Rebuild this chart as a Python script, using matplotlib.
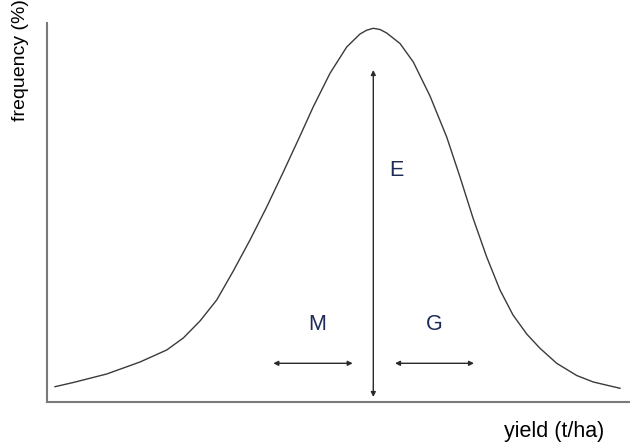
import matplotlib
matplotlib.use("Agg")
import matplotlib.pyplot as plt

plt.rcParams['font.family'] = ['Liberation Sans', 'DejaVu Sans']

# Curve (x: yield, y: frequency; arbitrary units)
curve_x = [8, 26.3, 59.7, 93, 119.7, 136.3, 153, 169.7, 186.3, 203, 219.7, 236.3,
           253, 266.3, 283, 299.7, 313, 319.7, 326.3, 333, 339.7, 353, 366.3, 383,
           399.7, 413, 426, 439.7, 453, 466, 479.7, 493, 509.7, 529.7, 546.3, 573]
curve_y = [15.3, 19.5, 28, 40, 52, 64, 81, 102, 131, 162, 195, 230,
           266, 295.3, 328.7, 355, 368, 371.8, 373.7, 372.5, 369, 358.5, 340, 306,
           265, 225, 184, 145, 112, 87, 68, 53.7, 38.7, 26.5, 20, 13.7]

# Arrows and labels
e_x = 326.3
e_y = (5, 332)
m_x = (226.3, 305.7)
g_x = (348, 427)
arrow_y = 38.7
labels = ["M", "G", "E"]
label_x = [269.7, 387.3, 349]
label_y = [77, 77, 232]

fig = plt.figure(figsize=(6.3, 4.42), dpi=100)
ax = fig.add_axes([47/630, 40/442, 583/630, 379/442])
ax.set_xlim(0, 583)
ax.set_ylim(0, 379)

ax.plot(curve_x, curve_y, color='#3a3a3a', lw=1.0, solid_joinstyle='round',
        antialiased=True)

akw = dict(arrowstyle='<|-|>', color='#2a2a2a', lw=1.0, mutation_scale=7,
           shrinkA=0, shrinkB=0)
ax.annotate('', xy=(e_x, e_y[1]), xytext=(e_x, e_y[0]), arrowprops=akw)
ax.annotate('', xy=(m_x[1], arrow_y), xytext=(m_x[0], arrow_y), arrowprops=akw)
ax.annotate('', xy=(g_x[1], arrow_y), xytext=(g_x[0], arrow_y), arrowprops=akw)

for t, x, y in zip(labels, label_x, label_y):
    ax.text(x, y, t, color='#1c2a55', fontsize=15.5, ha='center', va='center')

for s in ['top', 'right']:
    ax.spines[s].set_visible(False)
for s in ['left', 'bottom']:
    ax.spines[s].set_color('#7a7a7a')
    ax.spines[s].set_linewidth(1.5)
ax.set_xticks([])
ax.set_yticks([])

fig.text(21/630, 1 - 121/442, 'frequency (%)', rotation=90, fontsize=14,
         ha='center', va='bottom', color='black')
fig.text(554/630, 1 - 431/442, 'yield (t/ha)', fontsize=15.5,
         ha='center', va='center', color='black')

fig.savefig('out.png', dpi=100)
